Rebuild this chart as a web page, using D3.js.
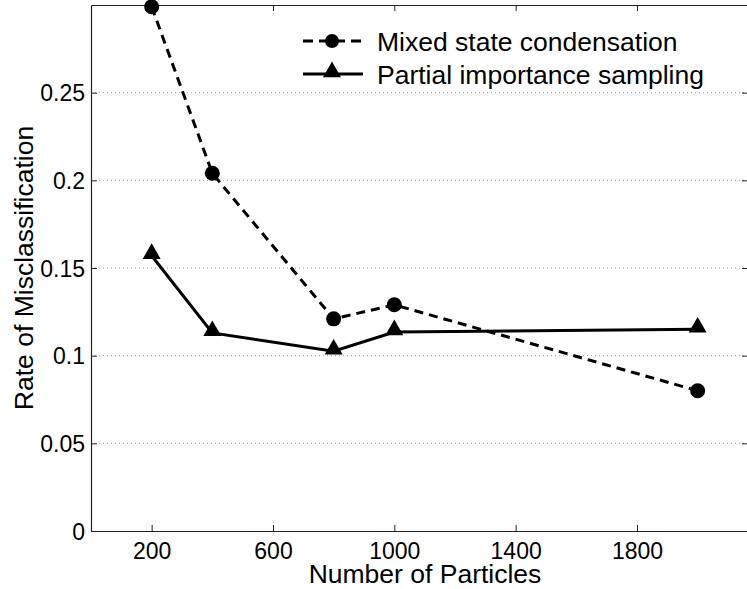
<!DOCTYPE html>
<html>
<head>
<meta charset="utf-8">
<script src="https://cdn.jsdelivr.net/npm/d3@7"></script>
<style>
  body { margin: 0; background: #fff; }
  text { font-family: "Liberation Sans", Arial, sans-serif; fill: #000; }
</style>
</head>
<body>
<svg width="747" height="589"></svg>
<script>
const particles = [200, 400, 800, 1000, 2000];
const mixedState = [0.299, 0.204, 0.121, 0.129, 0.080];
const partialImportance = [0.157, 0.113, 0.1025, 0.1135, 0.115];
const xTicks = [200, 600, 1000, 1400, 1800];
const yTicks = [0, 0.05, 0.1, 0.15, 0.2, 0.25];
const seriesNames = ["Mixed state condensation", "Partial importance sampling"];

const svg = d3.select("svg");
const margin = { top: 5, right: -1, bottom: 58, left: 91 };
const width = +svg.attr("width") - margin.left - margin.right;
const height = +svg.attr("height") - margin.top - margin.bottom;

const g = svg.append("g").attr("transform", "translate(" + margin.left + "," + margin.top + ")");

const x = d3.scaleLinear().domain([0, 2166]).range([0, width]);
const y = d3.scaleLinear().domain([0, 0.3]).range([height, 0]);

// dotted grid
g.selectAll(".grid")
    .data(yTicks.filter(d => d > 0))
    .enter().append("line")
    .attr("x1", 0).attr("x2", width)
    .attr("y1", d => y(d)).attr("y2", d => y(d))
    .attr("stroke", "#999")
    .attr("stroke-width", 1)
    .attr("stroke-dasharray", "1,3");

// axes with inward ticks
const tickSize = 6;
const xAxis = g.append("g").attr("transform", "translate(0," + height + ")")
    .call(d3.axisBottom(x).tickValues(xTicks).tickSizeInner(-tickSize).tickSizeOuter(0).tickPadding(12)
        .tickFormat(d3.format("d")));
const xTop = g.append("g")
    .call(d3.axisTop(x).tickValues(xTicks).tickSizeInner(-tickSize).tickSizeOuter(0).tickFormat(""));
const yAxis = g.append("g")
    .call(d3.axisLeft(y).tickValues(yTicks).tickSizeInner(-tickSize).tickSizeOuter(0).tickPadding(6)
        .tickFormat(d => d === 0 ? "0" : String(+d.toFixed(2))));
const yRight = g.append("g").attr("transform", "translate(" + width + ",0)")
    .call(d3.axisRight(y).tickValues(yTicks).tickSizeInner(-tickSize).tickSizeOuter(0).tickFormat(""));

[xAxis, xTop, yAxis, yRight].forEach(a => {
    a.select(".domain").attr("stroke", "#222").attr("stroke-width", 1.2);
    a.selectAll(".tick line").attr("stroke", "#222");
    a.selectAll(".tick text").attr("font-size", "23px").attr("fill", "#000")
        .attr("font-family", "Liberation Sans, Arial, sans-serif");
});
yAxis.selectAll(".tick text").attr("dy", "0.36em");

// axis titles
g.append("text")
    .attr("x", 425 - margin.left)
    .attr("y", height + 52)
    .attr("text-anchor", "middle")
    .attr("font-size", "26.5px")
    .text("Number of Particles");

g.append("text")
    .attr("transform", "translate(" + (33 - margin.left) + "," + (height / 2) + ") rotate(-90)")
    .attr("text-anchor", "middle")
    .attr("font-size", "26.5px")
    .text("Rate of Misclassification");

// lines
const line = d3.line()
    .x(d => x(d[0]))
    .y(d => y(d[1]));

const mixedData = particles.map((p, i) => [p, mixedState[i]]);
const partialData = particles.map((p, i) => [p, partialImportance[i]]);

g.append("path")
    .datum(mixedData)
    .attr("fill", "none")
    .attr("stroke", "#000")
    .attr("stroke-width", 3)
    .attr("stroke-dasharray", "9,6")
    .attr("d", line);

g.append("path")
    .datum(partialData)
    .attr("fill", "none")
    .attr("stroke", "#000")
    .attr("stroke-width", 3)
    .attr("d", line);

const triangle = d3.symbol().type(d3.symbolTriangle).size(140);

g.selectAll(".circ")
    .data(mixedData)
    .enter().append("circle")
    .attr("cx", d => x(d[0]))
    .attr("cy", d => y(d[1]))
    .attr("r", 7.5)
    .attr("fill", "#000");

g.selectAll(".tri")
    .data(partialData)
    .enter().append("path")
    .attr("d", triangle)
    .attr("transform", d => "translate(" + x(d[0]) + "," + (y(d[1]) - 2) + ")")
    .attr("fill", "#000");

// legend
const legend = svg.append("g").attr("transform", "translate(303,0)");
const rows = [41, 74];

legend.append("line")
    .attr("x1", 0).attr("x2", 60)
    .attr("y1", rows[0]).attr("y2", rows[0])
    .attr("stroke", "#000").attr("stroke-width", 3)
    .attr("stroke-dasharray", "10,6");
legend.append("circle")
    .attr("cx", 29).attr("cy", rows[0]).attr("r", 7).attr("fill", "#000");

legend.append("line")
    .attr("x1", 0).attr("x2", 60)
    .attr("y1", rows[1]).attr("y2", rows[1])
    .attr("stroke", "#000").attr("stroke-width", 3);
legend.append("path")
    .attr("d", triangle)
    .attr("transform", "translate(29," + (rows[1] - 2) + ")")
    .attr("fill", "#000");

legend.selectAll(".lt")
    .data(seriesNames)
    .enter().append("text")
    .attr("x", 74)
    .attr("y", (d, i) => rows[i])
    .attr("dy", "0.36em")
    .attr("font-size", "26.5px")
    .text(d => d);
</script>
</body>
</html>
